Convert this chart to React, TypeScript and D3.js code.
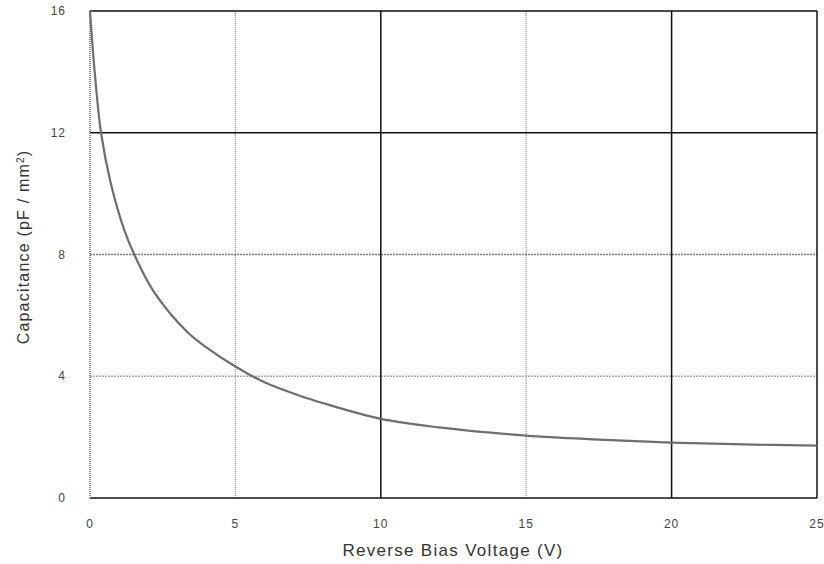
import React from "react";
import * as d3 from "d3";

const voltage = [0, 0.17, 0.38, 0.7, 1.18, 1.55, 2.18, 3.33, 4, 5, 6, 7.24, 8, 10, 12, 15, 17.5, 20, 22.5, 25];
const capacitance = [16, 13.9, 12, 10.4, 8.8, 7.94, 6.8, 5.47, 4.95, 4.32, 3.8, 3.35, 3.12, 2.6, 2.32, 2.05, 1.92, 1.82, 1.76, 1.72];
const xTicks = [0, 5, 10, 15, 20, 25];
const yTicks = [0, 4, 8, 12, 16];
const xMajor = [10, 20];
const xMinor = [5, 15];
const yMajor = [12];
const yMinor = [4, 8];

const W = 824;
const H = 564;
const L = 90;
const R = 817;
const T = 11;
const B = 498;

export default function App() {
  const x = d3.scaleLinear().domain([0, 25]).range([L, R]);
  const y = d3.scaleLinear().domain([0, 16]).range([B, T]);
  const line = d3
    .line<number>()
    .x((_, i) => x(voltage[i]))
    .y((d) => y(d))
    .curve(d3.curveCatmullRom.alpha(0.5));
  const font = "Arial, 'Liberation Sans', sans-serif";
  return (
    <svg width={W} height={H} style={{ position: "absolute", left: 0, top: 0, background: "#fff" }}>
      {xMinor.map((v) => (
        <line key={"xm" + v} x1={x(v)} x2={x(v)} y1={T} y2={B} stroke="#999" strokeWidth={1.3} strokeDasharray="1,1" />
      ))}
      {yMinor.map((v) => (
        <line key={"ym" + v} x1={L} x2={R} y1={y(v)} y2={y(v)} stroke={v === 8 ? "#777" : "#aaa"} strokeWidth={1.3} strokeDasharray="2,1" />
      ))}
      {xMajor.map((v) => (
        <line key={"xM" + v} x1={x(v)} x2={x(v)} y1={T} y2={B} stroke="#111" strokeWidth={1.5} />
      ))}
      {yMajor.map((v) => (
        <line key={"yM" + v} x1={L} x2={R} y1={y(v)} y2={y(v)} stroke="#111" strokeWidth={1.5} />
      ))}
      <line x1={L} x2={R} y1={T} y2={T} stroke="#111" strokeWidth={1.5} />
      <line x1={R} x2={R} y1={T} y2={B} stroke="#111" strokeWidth={1.5} />
      <line x1={L} x2={R} y1={B} y2={B} stroke="#111" strokeWidth={1.5} />
      <line x1={L} x2={L} y1={T} y2={B} stroke="#888" strokeWidth={2} strokeDasharray="1,1" />
      <path d={line(capacitance) || ""} fill="none" stroke="#6e6e6e" strokeWidth={2.2} />
      {yTicks.map((v) => (
        <text key={"yt" + v} x={66} y={y(v) + 4} textAnchor="end" fontFamily={font} fontSize={12} fill="#444" letterSpacing={1}>
          {v}
        </text>
      ))}
      {xTicks.map((v) => (
        <text key={"xt" + v} x={x(v)} y={528} textAnchor="middle" fontFamily={font} fontSize={12} fill="#444" letterSpacing={1}>
          {v}
        </text>
      ))}
      <text x={453} y={556} textAnchor="middle" fontFamily={font} fontSize={17} fill="#333" letterSpacing={1.3}>
        Reverse Bias Voltage (V)
      </text>
      <text
        transform={`translate(29, 247) rotate(-90)`}
        textAnchor="middle"
        fontFamily={font}
        fontSize={16}
        fill="#333"
        letterSpacing={1.2}
      >
        Capacitance (pF / mm
        <tspan baselineShift="super" fontSize={10}>2</tspan>)
      </text>
    </svg>
  );
}
